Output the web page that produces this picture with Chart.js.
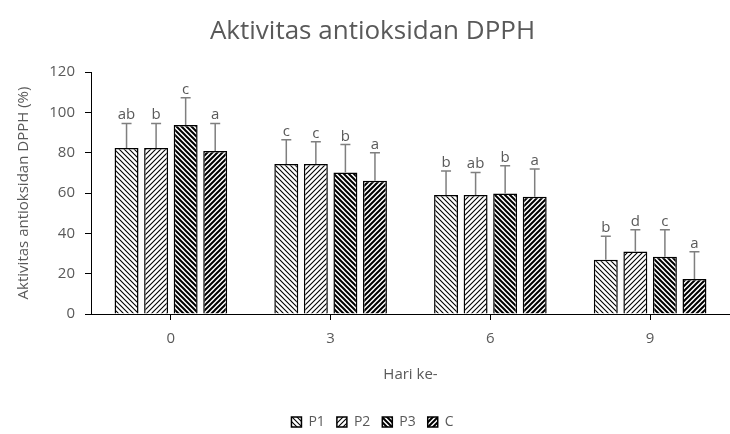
<!DOCTYPE html>
<html>
<head>
<meta charset="utf-8">
<script src="https://cdn.jsdelivr.net/npm/chart.js@4.4.0/dist/chart.umd.min.js"></script>
<style>
  body { margin: 0; background: #fff; }
</style>
</head>
<body>
<canvas id="my" width="730" height="434"></canvas>
<script>
var days = ["0", "3", "6", "9"];
var p1 = [82.3, 74.4, 59.0, 26.9];
var p2 = [82.3, 74.4, 59.0, 31.0];
var p3 = [93.7, 70.2, 59.8, 28.4];
var cc = [80.8, 66.1, 58.1, 17.3];
var errP1 = [12.2, 12.0, 11.9, 11.6];
var errP2 = [12.2, 11.0, 11.2, 10.8];
var errP3 = [13.5, 13.8, 13.7, 13.4];
var errC = [13.7, 13.8, 13.8, 13.6];
var letP1 = ["ab", "c", "b", "b"];
var letP2 = ["b", "c", "ab", "d"];
var letP3 = ["c", "b", "b", "c"];
var letC = ["a", "a", "a", "a"];

var FONT = "'Open Sans', sans-serif";
var GREY = "#595959";

// hatch fill, dir 1 = "\" , -1 = "/"
function hatch(dir, lw) {
    var s = 5;
    var c = document.createElement("canvas");
    c.width = s; c.height = s;
    var g = c.getContext("2d");
    g.fillStyle = "#fff";
    g.fillRect(0, 0, s, s);
    g.strokeStyle = "#000";
    g.lineWidth = lw;
    g.beginPath();
    for (var k = -1; k <= 1; k++) {
        if (dir > 0) {
            g.moveTo(k * s - 1, -1); g.lineTo(k * s + s + 1, s + 1);
        } else {
            g.moveTo(k * s - 1, s + 1); g.lineTo(k * s + s + 1, -1);
        }
    }
    g.stroke();
    return g.createPattern(c, "repeat");
}

var errorBars = {
    id: "errorBars",
    afterDatasetsDraw: function (chart) {
        var ctx = chart.ctx;
        var y = chart.scales.y;
        chart.data.datasets.forEach(function (ds, i) {
            var meta = chart.getDatasetMeta(i);
            meta.data.forEach(function (bar, j) {
                var top = y.getPixelForValue(ds.data[j] + ds.err[j]);
                ctx.save();
                ctx.strokeStyle = "#7f7f7f";
                ctx.lineWidth = 1.5;
                ctx.beginPath();
                ctx.moveTo(bar.x, bar.y);
                ctx.lineTo(bar.x, top);
                ctx.moveTo(bar.x - 5, top);
                ctx.lineTo(bar.x + 5, top);
                ctx.stroke();
                ctx.fillStyle = GREY;
                ctx.font = "15px " + FONT;
                ctx.textAlign = "center";
                ctx.textBaseline = "alphabetic";
                ctx.fillText(ds.letters[j], bar.x, top - 4);
                ctx.restore();
            });
        });
    }
};

function ds(label, data, err, letters, fill) {
    return {
        label: label,
        data: data,
        err: err,
        letters: letters,
        backgroundColor: fill,
        borderColor: "#000",
        borderWidth: 1.5
    };
}

var ctx = document.getElementById("my").getContext("2d");
var myChart = new Chart(ctx, {
    type: "bar",
    plugins: [errorBars],
    data: {
        labels: days,
        datasets: [
            ds("P1", p1, errP1, letP1, hatch(1, 1.1)),
            ds("P2", p2, errP2, letP2, hatch(-1, 1.1)),
            ds("P3", p3, errP3, letP3, hatch(1, 2.0)),
            ds("C", cc, errC, letC, hatch(-1, 2.0))
        ]
    },
    options: {
        responsive: false,
        devicePixelRatio: 1,
        animation: false,
        categoryPercentage: 0.74,
        barPercentage: 0.81,
        layout: { padding: { left: 15, right: 0, top: 0, bottom: -5 } },
        plugins: {
            title: {
                display: true,
                text: "Aktivitas antioksidan DPPH",
                color: GREY,
                font: { family: FONT, size: 26, weight: "normal" },
                padding: { top: 16.4, bottom: 24.4 }
            },
            legend: {
                display: true,
                position: "bottom",
                labels: {
                    color: GREY,
                    font: { family: FONT, size: 14 },
                    boxWidth: 10,
                    boxHeight: 10,
                    padding: 12
                }
            },
            tooltip: { enabled: false }
        },
        scales: {
            x: {
                grid: { display: true, drawOnChartArea: false, offset: false, color: "#000", tickLength: 6 },
                border: { color: "#000", width: 1 },
                ticks: { color: GREY, font: { family: FONT, size: 15 }, padding: 10 },
                title: {
                    display: true,
                    text: "Hari ke-",
                    color: GREY,
                    font: { family: FONT, size: 15 },
                    padding: { top: 8, bottom: 19 }
                }
            },
            y: {
                min: 0,
                max: 120,
                afterFit: function (s) { s.width = 76; },
                ticks: { stepSize: 20, color: GREY, font: { family: FONT, size: 15 }, padding: 10 },
                grid: { display: true, drawOnChartArea: false, color: "#000", tickLength: 6 },
                border: { color: "#000", width: 1 },
                title: {
                    display: true,
                    text: "Aktivitas antioksidan DPPH (%)",
                    color: GREY,
                    font: { family: FONT, size: 15 },
                    padding: { top: 0, bottom: 8 }
                }
            }
        }
    }
});
</script>
</body>
</html>
